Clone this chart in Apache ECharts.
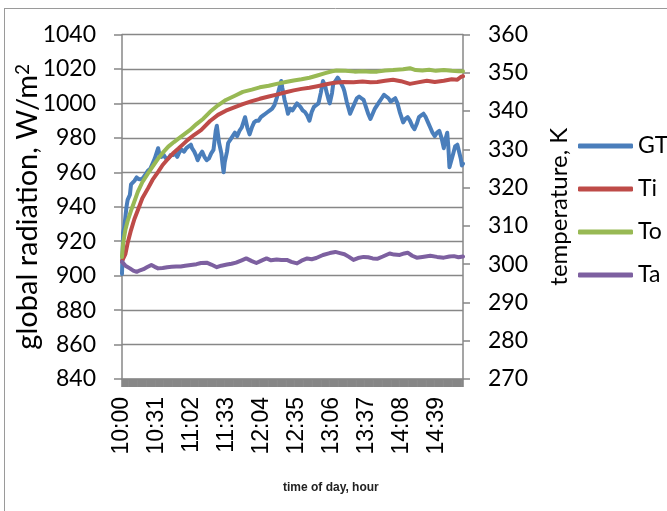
<!DOCTYPE html>
<html>
<head>
<meta charset="utf-8">
<script src="https://cdn.jsdelivr.net/npm/echarts@6/dist/echarts.min.js"></script>
<style>html,body{margin:0;padding:0;background:#fff}#c{width:667px;height:511px}</style>
</head>
<body>
<div id="c"></div>
<script>
// x: minutes after 10:00
const xTickLabels = ['10:00','10:31','11:02','11:33','12:04','12:35','13:06','13:37','14:08','14:39'];
const seriesNames = ['GT','Ti','To','Ta'];

const gtTime = [0,1,2,3,4,5,6,7,8,9,11,13,15,17,19,21,23,25,27,29,31,32,33,35,37,39,41,43,45,47,49,51,53,55,57,59,61,62,64,66,67,69,71,73,75,77,79,81,83,84,85,86,88,89,90,91,93,94,96,98,100,102,104,106,108,109,111,113,115,117,119,121,123,125,127,129,131,133,135,137,139,141,142,144,146,147,149,151,153,155,156,158,160,162,164,166,168,170,172,174,176,178,180,181,183,184,186,187,189,191,193,194,196,197,199,202,204,206,208,210,212,214,216,218,220,222,224,226,228,230,232,234,236,238,240,242,244,246,248,249,251,253,255,257,259,261,263,265,267,269,271,273,275,277,279,281,283,285,286,288,289,290,291,293,295,297,298,300,301,302];
const gtValue = [901,925,928,934,940,944,945,947,953,954,955,957,956,956,957,959,961,962,965,968,972,974,971,969,970,968,968,970,970,971,969,972,973,972,974,975,976,974,972,969,967,970,972,969,967,968,971,973,984,987,982,977,971,965,960,966,972,977,979,981,983,981,984,986,990,992,986,982,986,989,990,990,992,993,994,995,996,997,999,1003,1008,1013,1009,1002,997,994,997,996,998,1000,1001,998,996,995,993,990,995,998,999,1000,1006,1013,1010,1007,1002,1000,1006,1011,1013,1015,1013,1012,1009,1007,1001,994,997,1000,1003,1004,1003,1002,998,994,991,994,997,999,1001,1003,1005,1004,1003,1001,1002,1003,1000,995,991,989,991,992,990,987,985,988,992,993,994,992,989,986,983,981,983,984,980,974,978,983,975,963,964,970,975,976,975,968,964,965];

const tiTime = [0,1,3,5,8,11,14,18,23,27,32,36,41,45,50,54,58,64,70,78,85,92,100,107,115,122,130,137,145,152,159,166,173,181,188,196,205,213,220,226,233,240,247,255,262,270,277,285,292,297,300,302];
const tiValue = [300.8,301.0,302.6,305.5,308.9,311.8,314.1,317.2,319.8,322.0,324.1,325.9,327.6,328.9,330.2,331.3,332.4,333.8,335.0,337.4,339.0,340.1,341.0,341.8,342.6,343.2,343.8,344.3,344.9,345.4,345.8,346.1,346.5,347.0,347.4,347.6,347.5,347.7,347.5,347.6,347.9,348.2,347.8,347.1,347.5,347.9,347.6,347.9,348.3,348.2,348.9,349.1];

const toTime = [0,1,3,5,8,10,14,18,23,28,32,37,41,46,50,55,60,66,72,78,85,92,100,107,115,122,130,137,145,152,159,166,173,180,186,190,198,206,213,220,226,233,240,249,255,260,266,272,278,285,292,298,302];
const toValue = [301.9,305.5,309.0,311.3,314.0,315.6,318.9,321.4,323.7,325.9,327.6,329.4,330.7,331.9,332.8,333.9,335.0,336.6,338.0,339.8,341.5,342.9,344.0,345.0,345.6,346.2,346.6,347.1,347.6,348.0,348.3,348.7,349.3,349.9,350.4,350.6,350.5,350.3,350.4,350.3,350.3,350.6,350.7,350.9,351.2,350.7,350.6,350.8,350.5,350.7,350.5,350.4,350.4];

const taTime = [0,3,7,10,13,16,19,22,26,29,32,36,40,44,48,52,56,61,66,70,75,79,84,88,93,97,101,106,110,115,119,124,128,132,137,141,146,150,155,159,164,168,172,178,184,189,193,197,201,205,209,214,218,222,226,231,237,241,246,250,253,257,261,266,273,279,285,290,294,298,302];
const taValue = [300.6,299.6,298.9,298.3,298.0,298.4,298.7,299.2,299.8,299.3,298.9,299.0,299.2,299.3,299.4,299.4,299.6,299.8,300.0,300.3,300.4,299.9,299.2,299.6,299.9,300.1,300.4,301.0,301.5,300.8,300.3,301.0,301.5,301.0,301.2,301.1,301.1,300.6,300.2,300.9,301.5,301.3,301.6,302.4,302.9,303.2,302.9,302.6,301.9,301.1,301.6,301.9,301.8,301.5,301.4,302.0,302.8,302.5,302.4,302.8,303.0,302.2,301.7,301.9,302.2,301.9,301.7,302.0,302.1,301.8,302.0];

const colors = ['#4A7EBB','#BE4B48','#98B954','#7D60A0'];

function zip(t, v) { return t.map((x, i) => [x, v[i]]); }

const chart = echarts.init(document.getElementById('c'), null, {renderer: 'canvas'});
const axisGray = '#878787';
const lineSeries = (name, t, v, yIdx, color) => ({
  name, type: 'line', yAxisIndex: yIdx, data: zip(t, v),
  showSymbol: false, symbol: 'none', smooth: false,
  lineStyle: {color, width: 4, cap: 'round', join: 'round'},
  itemStyle: {color}, animation: false
});

chart.setOption({
  animation: false,
  grid: {left: 122, right: 204, top: 34.5, bottom: 132, containLabel: false, outerBoundsMode: 'none'},
  xAxis: {
    type: 'value', min: 0, max: 302, interval: 1,
    axisLine: {show: true, lineStyle: {color: axisGray, width: 1.5}},
    axisTick: {show: true, length: 8, lineStyle: {color: axisGray, width: 2.6}},
    splitLine: {show: false},
    axisLabel: {
      rotate: 90, margin: 18, fontFamily: 'Liberation Sans', fontSize: 23, color: '#000',
      showMinLabel: true, showMaxLabel: false,
      formatter: function (v) {
        if (v % 31 === 0 && v / 31 < xTickLabels.length) return xTickLabels[v / 31];
        return '';
      }
    }
  },
  yAxis: [
    {
      type: 'value', min: 840, max: 1040, interval: 20, position: 'left',
      name: 'global radiation, W/m{sup|2}', nameLocation: 'middle', nameGap: 80, nameRotate: 90,
      nameMoveOverlap: false,
      nameTextStyle: {fontFamily: 'Lato', fontSize: 29, color: '#000',
        rich: {sup: {fontFamily: 'Lato', fontSize: 19, verticalAlign: 'top', color: '#000'}}},
      axisLine: {show: true, lineStyle: {color: axisGray, width: 1.5}},
      axisTick: {show: true, inside: false, length: 8, lineStyle: {color: axisGray, width: 1.5}},
      splitLine: {show: true, lineStyle: {color: axisGray, width: 1.3}},
      axisLabel: {fontFamily: 'Lato', fontSize: 23, color: '#000', margin: 26,
        formatter: function (v) { return String(v); }}
    },
    {
      type: 'value', min: 270, max: 360, interval: 10, position: 'right',
      name: 'temperature, K', nameLocation: 'middle', nameGap: 84, nameRotate: 90,
      nameMoveOverlap: false,
      nameTextStyle: {fontFamily: 'Lato', fontSize: 24, color: '#000'},
      axisLine: {show: true, lineStyle: {color: axisGray, width: 1.5}},
      axisTick: {show: true, inside: false, length: 7, lineStyle: {color: axisGray, width: 1.5}},
      splitLine: {show: false},
      axisLabel: {fontFamily: 'Lato', fontSize: 23, color: '#000', margin: 25,
        formatter: function (v) { return String(v); }}
    }
  ],
  legend: {
    orient: 'vertical', left: 578, top: 134, padding: 0,
    itemWidth: 55, itemHeight: 5, itemGap: 19, icon: 'roundRect',
    textStyle: {fontFamily: 'Lato', fontSize: 23, color: '#000', lineHeight: 24},
    data: seriesNames
  },
  series: [
    lineSeries(seriesNames[0], gtTime, gtValue, 0, colors[0]),
    lineSeries(seriesNames[1], tiTime, tiValue, 1, colors[1]),
    lineSeries(seriesNames[2], toTime, toValue, 1, colors[2]),
    lineSeries(seriesNames[3], taTime, taValue, 1, colors[3])
  ],
  graphic: [
    {type: 'line', shape: {x1: 4.5, y1: 9, x2: 4.5, y2: 511}, style: {stroke: '#9a9a9a', lineWidth: 1}, silent: true},
    {type: 'line', shape: {x1: 4, y1: 8.5, x2: 667, y2: 8.5}, style: {stroke: '#9a9a9a', lineWidth: 1}, silent: true},
    {type: 'text', left: 283, top: 482, style: {text: 'time of day, hour', font: 'bold 12px "Liberation Sans"', fill: '#222'}, silent: true}
  ]
});
</script>
</body>
</html>
